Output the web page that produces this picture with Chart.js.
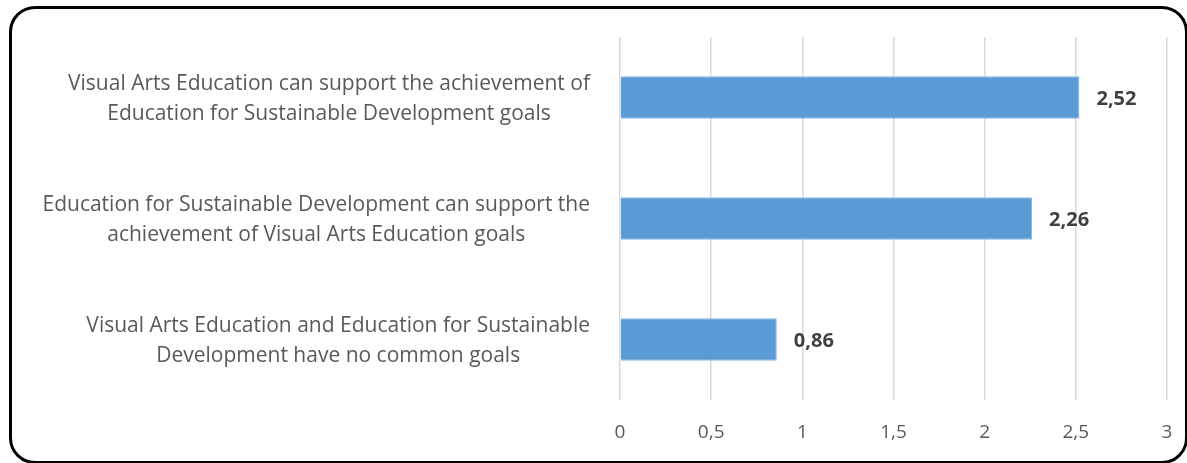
<!DOCTYPE html>
<html>
<head>
<meta charset="utf-8">
<script src="https://cdn.jsdelivr.net/npm/chart.js@4.4.1/dist/chart.umd.min.js"></script>
<style>
  html, body { margin: 0; padding: 0; background: #fff; }
  #wrap { position: relative; width: 1187px; height: 463px; overflow: hidden; }
  #frame {
    position: absolute; left: 9px; top: 6px; width: 1173px; height: 452px;
    border: 3px solid #000; border-radius: 26px; box-sizing: content-box;
  }
  #c { position: absolute; left: 0; top: 0; }
</style>
</head>
<body>
<div id="wrap">
  <div id="frame"></div>
  <canvas id="c" width="1187" height="463"></canvas>
</div>
<script>
// Survey statements (each entry is the wrapped lines of one label)
const categories = [
  ["Visual Arts Education can support the achievement of", "Education for Sustainable Development goals"],
  ["Education for Sustainable Development can support the", "achievement of Visual Arts Education goals"],
  ["Visual Arts Education and Education for Sustainable", "Development have no common goals"]
];
const values = [2.52, 2.26, 0.86];
const xTicks = [0, 0.5, 1, 1.5, 2, 2.5, 3];

const FONT = "'Open Sans', sans-serif";
const fmt = v => String(v).replace('.', ',');

// Category labels: each block right-aligned to the plot, lines centred within the block
const categoryLabels = {
  id: 'categoryLabels',
  afterDraw(chart) {
    const ctx = chart.ctx;
    const y = chart.scales.y;
    const right = chart.chartArea.left - 30;
    const lineH = 30;
    ctx.save();
    ctx.font = "21px " + FONT;
    ctx.fillStyle = '#595959';
    ctx.textAlign = 'center';
    ctx.textBaseline = 'middle';
    categories.forEach((lines, i) => {
      const w = Math.max(...lines.map(l => ctx.measureText(l).width));
      const cx = right - w / 2;
      const cy = y.getPixelForValue(i) + 2;
      const top = cy - (lines.length - 1) * lineH / 2;
      lines.forEach((l, k) => ctx.fillText(l, cx, top + k * lineH));
    });
    ctx.restore();
  }
};

// Value labels to the right of each bar
const valueLabels = {
  id: 'valueLabels',
  afterDatasetsDraw(chart) {
    const ctx = chart.ctx;
    const meta = chart.getDatasetMeta(0);
    ctx.save();
    ctx.font = "bold 20px " + FONT;
    ctx.fillStyle = '#404040';
    ctx.textAlign = 'left';
    ctx.textBaseline = 'middle';
    meta.data.forEach((bar, i) => {
      ctx.fillText(fmt(values[i]), bar.x + 17, bar.y + 2);
    });
    ctx.restore();
  }
};

new Chart(document.getElementById('c'), {
  type: 'bar',
  data: {
    labels: categories.map(l => l.join(' ')),
    datasets: [{
      data: values,
      backgroundColor: '#5B9BD5',
      borderColor: '#8DB9E4',
      borderWidth: 1,
      barPercentage: 0.35,
      categoryPercentage: 1
    }]
  },
  options: {
    indexAxis: 'y',
    responsive: false,
    animation: false,
    layout: { padding: { left: 620, right: 20, top: 37, bottom: 0 } },
    plugins: { legend: { display: false }, tooltip: { enabled: false } },
    scales: {
      x: {
        min: 0, max: 3,
        afterBuildTicks(scale) { scale.ticks = xTicks.map(v => ({ value: v })); },
        afterFit(scale) {
          scale.height = 63;
          scale.paddingLeft = 0;
          scale.paddingRight = 0;
        },
        grid: { color: '#d9d9d9', lineWidth: 1.5, drawTicks: false },
        border: { display: false },
        ticks: {
          padding: 21,
          color: '#595959',
          font: { family: FONT, size: 19 },
          callback: v => fmt(v)
        }
      },
      y: {
        display: false
      }
    }
  },
  plugins: [categoryLabels, valueLabels]
});
</script>
</body>
</html>
